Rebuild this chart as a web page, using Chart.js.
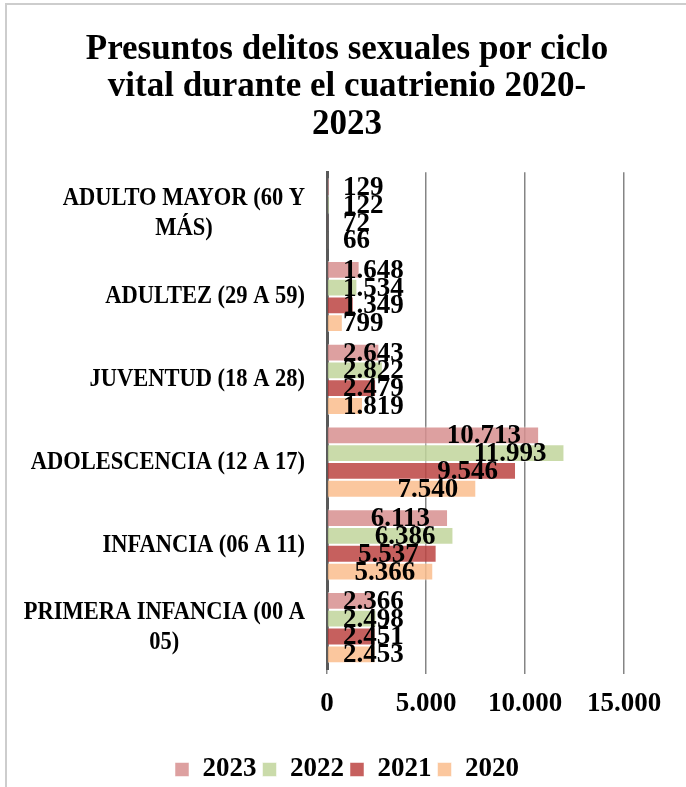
<!DOCTYPE html>
<html>
<head>
<meta charset="utf-8">
<script src="https://cdn.jsdelivr.net/npm/chart.js@4/dist/chart.umd.min.js"></script>
<style>
  html, body { margin: 0; padding: 0; background: #fff; }
  canvas { display: block; }
</style>
</head>
<body>
<canvas id="chart" width="686" height="787"></canvas>
<script>
// categories top -> bottom
const categories = [
  ['ADULTO MAYOR (60 Y', 'MÁS)'],
  ['ADULTEZ (29 A 59)'],
  ['JUVENTUD (18 A 28)'],
  ['ADOLESCENCIA (12 A 17)'],
  ['INFANCIA (06 A 11)'],
  ['PRIMERA INFANCIA (00 A', '05)']
];
const years = ['2023', '2022', '2021', '2020'];
const values2023 = [129, 1648, 2643, 10713, 6113, 2366];
const values2022 = [122, 1534, 2822, 11993, 6386, 2498];
const values2021 = [72, 1349, 2479, 9546, 5537, 2451];
const values2020 = [66, 799, 1819, 7540, 5366, 2453];
const xTicks = [0, 5000, 10000, 15000];

const colors = ['rgba(215,143,143,0.85)', 'rgba(193,213,155,0.85)', 'rgba(188,68,66,0.85)', 'rgba(250,189,141,0.85)'];
const FONT = "'Liberation Serif', 'Times New Roman', serif";

const fmt = v => String(v).replace(/\B(?=(\d{3})+(?!\d))/g, '.');

// white background + frame lines
const frame = {
  id: 'frame',
  beforeDraw(chart) {
    const { ctx, width, height } = chart;
    ctx.save();
    ctx.fillStyle = '#fff';
    ctx.fillRect(0, 0, width, height);
    ctx.strokeStyle = '#cdcdcd';
    ctx.lineWidth = 2;
    ctx.beginPath();
    ctx.moveTo(6, height);
    ctx.lineTo(6, 4);
    ctx.lineTo(width, 4);
    ctx.stroke();
    ctx.restore();
  }
};

// category labels: each block right aligned, lines centred inside block
// (slightly condensed glyphs like the original)
const catLabels = {
  id: 'catLabels',
  afterDraw(chart) {
    const { ctx, chartArea } = chart;
    const yScale = chart.scales.y;
    const sx = 0.865;
    ctx.save();
    ctx.font = 'bold 26px ' + FONT;
    ctx.fillStyle = '#000';
    ctx.textAlign = 'center';
    ctx.textBaseline = 'middle';
    categories.forEach((lines, i) => {
      const w = Math.max(...lines.map(l => ctx.measureText(l).width)) * sx;
      const cx = chartArea.left - 22 - w / 2;
      const cy = yScale.getPixelForValue(i);
      lines.forEach((l, j) => {
        ctx.save();
        ctx.translate(cx, cy + (j - (lines.length - 1) / 2) * 30);
        ctx.scale(sx, 1);
        ctx.fillText(l, 0, 0);
        ctx.restore();
      });
    });
    ctx.restore();
  }
};

// value labels near the bar end, never left of the axis + 16
const valueLabels = {
  id: 'valueLabels',
  afterDatasetsDraw(chart) {
    const { ctx, chartArea } = chart;
    ctx.save();
    ctx.font = 'bold 27px ' + FONT;
    ctx.fillStyle = '#000';
    ctx.textAlign = 'right';
    ctx.textBaseline = 'middle';
    chart.data.datasets.forEach((ds, di) => {
      chart.getDatasetMeta(di).data.forEach((bar, i) => {
        const txt = fmt(ds.data[i]);
        const w = ctx.measureText(txt).width;
        const right = Math.max(bar.x - 18, chartArea.left + 16 + w);
        ctx.fillText(txt, right, bar.y + 1);
      });
    });
    ctx.restore();
  }
};

new Chart(document.getElementById('chart'), {
  type: 'bar',
  data: {
    labels: categories.map(c => c.join(' ')),
    datasets: [values2023, values2022, values2021, values2020].map((d, i) => ({
      label: years[i],
      data: d,
      backgroundColor: colors[i],
      borderColor: 'rgba(255,255,255,0.5)',
      borderWidth: 1,
      categoryPercentage: 0.86,
      barPercentage: 1
    }))
  },
  options: {
    indexAxis: 'y',
    responsive: false,
    animation: false,
    layout: { padding: { left: 8, right: 0, top: 0, bottom: -6 } },
    plugins: {
      tooltip: { enabled: false },
      title: {
        display: true,
        text: ['Presuntos delitos sexuales por ciclo', 'vital durante el cuatrienio 2020-', '2023'],
        color: '#000',
        font: { family: FONT, size: 35, weight: 'bold', lineHeight: 1.07 },
        padding: { top: 31, bottom: 29 }
      },
      legend: {
        position: 'bottom',
        labels: {
          color: '#000',
          font: { family: FONT, size: 27, weight: 'bold' },
          boxWidth: 14,
          boxHeight: 14,
          padding: 6
        }
      }
    },
    scales: {
      x: {
        min: 0,
        max: 15000,
        afterBuildTicks: s => { s.ticks = xTicks.map(v => ({ value: v })); },
        afterFit: s => { s.height = 81; },
        grid: { color: '#858585', lineWidth: 1.5, tickLength: 5 },
        border: { display: false },
        ticks: {
          color: '#000',
          padding: 14,
          font: { family: FONT, size: 27, weight: 'bold' },
          callback: v => fmt(v)
        }
      },
      y: {
        afterFit: s => { s.width = 319; },
        grid: { display: false },
        border: { display: true, color: '#595959', width: 3 },
        ticks: { display: false }
      },
      // empty right-hand spacer so the title and legend centre like the original
      yRight: {
        type: 'category',
        axis: 'y',
        position: 'right',
        afterFit: s => { s.width = 62; },
        grid: { display: false },
        border: { display: false },
        ticks: { display: false }
      }
    }
  },
  plugins: [frame, catLabels, valueLabels]
});
</script>
</body>
</html>
